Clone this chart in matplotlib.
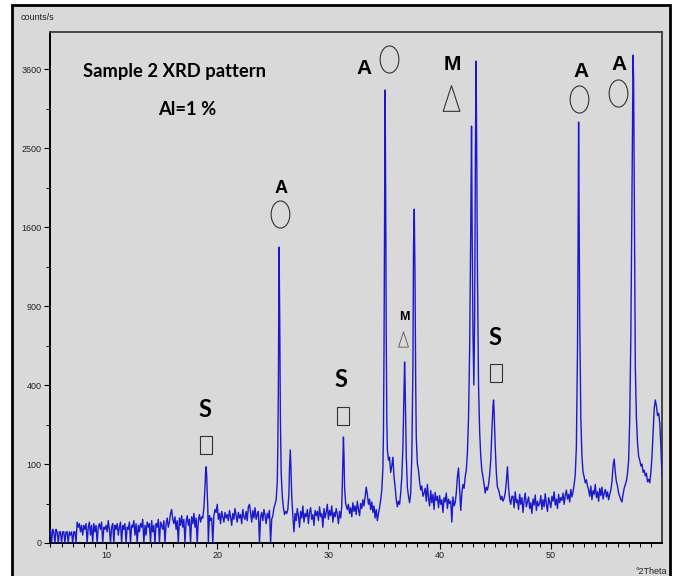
import numpy as np
import matplotlib
matplotlib.use('Agg')
import matplotlib.pyplot as plt

# ---------------- data ----------------
# baseline stretches: start angle (deg 2theta), step 0.1, counts/s
base1_start = 5.0
base1 = [3, 0, 3, 2, 0, 3, 2, 0, 2, 2,
         0, 2, 2, 0, 2, 2, 0, 2, 1, 2,
         0, 2, 2, 0, 7, 4, 6, 2, 5, 1,
         5, 3, 6, 0, 4, 7, 1, 5, 0, 6,
         2, 5, 0, 4, 6, 3, 7, 0, 4, 3,
         5, 2, 8, 3, 0, 4, 6, 0, 5, 3,
         6, 1, 4, 7, 0, 5, 3, 6, 0, 4,
         3, 7, 0, 5, 4, 8, 1, 6, 0, 5,
         2, 6, 4, 9, 0, 5, 1, 7, 4, 6,
         0, 8, 2, 5, 0, 6, 4, 9, 0, 7,
         5, 3, 8, 0, 6, 10, 4, 7, 14, 18,
         9, 6, 11, 3, 8, 0, 10, 5, 12, 4,
         9, 0, 7, 12, 5, 9, 0, 11, 6, 14,
         4, 10, 0, 8, 13, 7, 11]
peak1_theta = [18.7, 18.8, 18.9, 18.95, 19.0, 19.05, 19.1, 19.15, 19.2, 19.3, 19.4]
peak1_counts = [10, 20, 50, 80, 93, 75, 40, 20, 0, 12, 8]

base2_start = 19.5
base2 = [10, 0, 12, 18, 15,
         24, 9, 14, 6, 16, 11, 7, 15, 10, 13,
         8, 17, 11, 5, 14, 9, 19, 12, 7, 15,
         10, 13, 6, 18, 11, 9, 16, 8, 21, 24,
         14, 7, 17, 10, 20, 9, 13, 16, 0, 11,
         15, 8, 18, 12, 6, 14, 10, 17, 0, 9,
         12, 20]
peak2_theta = [25.2, 25.3, 25.4, 25.45, 25.5, 25.56, 25.62, 25.68, 25.75, 25.85, 25.95,
               26.05, 26.15, 26.25, 26.35, 26.45, 26.5, 26.57, 26.63, 26.7, 26.8, 26.9, 27.0]
peak2_counts = [24, 30, 60, 150, 400, 1404, 800, 250, 80, 35, 20,
                13, 16, 14, 18, 40, 90, 139, 90, 35, 12, 2, 14]

base3_start = 27.1
base3 = [8, 19, 12, 4, 16, 10, 22, 7, 14,
         11, 18, 6, 15, 20, 9, 13, 5, 17, 12,
         16, 8, 21, 11, 14, 4, 19, 10, 15, 24,
         9, 17, 12, 22, 7, 15, 11, 19, 13, 6,
         16, 10]
peak3_theta = [31.2, 31.25, 31.3, 31.35, 31.4, 31.45, 31.55, 31.7]
peak3_counts = [22, 60, 130, 180, 120, 50, 25, 18]

base4_start = 31.8
base4 = [24, 14,
         20, 11, 26, 16, 22, 13, 28, 18, 12, 25,
         19, 30, 22, 35, 50, 38, 24, 31, 18, 27,
         15, 22, 10, 18, 8, 14, 20]
peak4_theta = [34.7, 34.8, 34.9, 34.95, 35.0, 35.05, 35.1, 35.15, 35.2, 35.25, 35.3,
               35.4, 35.5, 35.6, 35.7, 35.8, 35.9, 36.0, 36.1, 36.2, 36.3, 36.4, 36.5,
               36.6, 36.7, 36.8, 36.85, 36.9, 37.0, 37.1, 37.2, 37.3, 37.4, 37.5, 37.6,
               37.65, 37.72, 37.78, 37.85, 37.9, 38.0, 38.1, 38.2, 38.3, 38.4, 38.5, 38.6]
peak4_counts = [30, 45, 90, 200, 600, 1800, 3290, 1900, 700, 250, 140,
                110, 118, 80, 95, 118, 70, 50, 30, 21, 28, 24, 40,
                70, 150, 380, 525, 400, 120, 50, 35, 26, 40, 120, 500,
                1400, 1787, 1200, 400, 180, 100, 85, 60, 45, 52, 35, 40]

base5_start = 38.7
base5 = [48, 28, 55,
         32, 22, 44, 26, 38, 18, 41, 29, 35, 20,
         36, 24, 30, 15, 33, 27, 40, 19, 31, 25,
         28, 7, 34, 22, 26]
peak5_theta = [41.5, 41.6, 41.7, 41.8, 41.9, 42.0, 42.1, 42.2, 42.3, 42.4, 42.5, 42.6,
               42.7, 42.8, 42.87, 42.93, 43.0, 43.08, 43.15, 43.22, 43.28, 43.33, 43.4,
               43.5, 43.6, 43.7, 43.8, 43.9, 44.0, 44.1, 44.2, 44.3, 44.4, 44.5, 44.6,
               44.7, 44.8, 44.85, 44.9, 45.0, 45.1, 45.2, 45.3, 45.4, 45.5, 45.6, 45.7,
               45.8, 45.9, 46.0, 46.1, 46.2, 46.3, 46.4, 46.5]
peak5_counts = [40, 70, 90, 45, 17, 40, 55, 48, 70, 85, 130, 250,
                600, 1600, 2786, 1500, 700, 400, 800, 2500, 3722, 2600, 1200,
                400, 200, 120, 85, 70, 55, 40, 50, 45, 55, 75, 110,
                200, 300, 328, 280, 150, 80, 50, 45, 38, 30, 35, 28,
                32, 40, 60, 93, 50, 30, 24, 35]

base6_start = 46.6
base6 = [35, 20, 42, 26,
         30, 18, 38, 24, 33, 15, 29, 40, 21, 27,
         34, 19, 26, 14, 31, 23, 37, 17, 28, 22,
         25, 36, 18, 30, 21, 39, 24, 16, 33, 27,
         20, 35, 28, 42, 23, 31, 19, 38, 26, 33,
         29, 40, 24, 36, 45, 31, 38, 27, 46, 34,
         42, 55]
peak6_theta = [52.2, 52.3, 52.4, 52.45, 52.5, 52.55, 52.6, 52.7, 52.8, 52.9, 53.0, 53.1, 53.2, 53.3]
peak6_counts = [75, 150, 600, 1400, 2840, 1600, 800, 250, 120, 80, 70, 58, 64, 52]

base7_start = 53.4
base7 = [45, 35, 52, 30, 44, 38,
         55, 33, 42, 28, 48, 36, 50, 31, 40, 46,
         34, 42, 30, 38, 45]
peak7_theta = [55.5, 55.6, 55.7, 55.8, 55.9, 56.0, 56.1, 56.2, 56.3, 56.4, 56.5, 56.6,
               56.7, 56.8, 56.9, 57.0, 57.1, 57.2, 57.3, 57.4, 57.45, 57.5, 57.55, 57.6,
               57.7, 57.8, 57.9, 58.0, 58.1, 58.2, 58.3, 58.4, 58.5, 58.6, 58.7, 58.8,
               58.9, 59.0, 59.1, 59.2, 59.3, 59.4, 59.5, 59.6, 59.7, 59.8, 59.9, 60.0]
peak7_counts = [60, 95, 113, 80, 60, 52, 40, 35, 30, 27, 38, 48,
                55, 62, 78, 110, 250, 700, 2000, 3817, 3400, 2200, 1200, 500,
                250, 160, 120, 110, 95, 100, 80, 85, 72, 78, 60, 65,
                58, 80, 120, 200, 290, 328, 300, 260, 270, 230, 150, 70]

# phase labels: (text, 2theta, counts)
phase_labels = [("S", 18.9, 254), ("A", 25.74, 1963), ("S", 31.1, 390),
                ("A", 33.23, 3525), ("M", 41.16, 3585), ("M", 36.83, 797),
                ("S", 44.95, 628), ("A", 52.7, 3484), ("A", 56.14, 3585)]
circle_marks = [(25.65, 1737), (35.47, 3757), (52.58, 3159), (56.07, 3252)]
square_marks = [(19.02, 155), (31.34, 260), (45.1, 461)]
triangle_marks = [(41.03, 3173)]
small_triangle_marks = [(36.7, 669)]

x_major = [10, 20, 30, 40, 50]
y_major = [0, 100, 400, 900, 1600, 2500, 3600]
y_minor = [25, 225, 625, 1225, 2025, 3025]


def seg(start, vals):
    return list(np.round(start + 0.1 * np.arange(len(vals)), 2)), list(vals)


parts = [seg(base1_start, base1), (peak1_theta, peak1_counts),
         seg(base2_start, base2), (peak2_theta, peak2_counts),
         seg(base3_start, base3), (peak3_theta, peak3_counts),
         seg(base4_start, base4), (peak4_theta, peak4_counts),
         seg(base5_start, base5), (peak5_theta, peak5_counts),
         seg(base6_start, base6), (peak6_theta, peak6_counts),
         seg(base7_start, base7), (peak7_theta, peak7_counts)]
two_theta = np.concatenate([np.asarray(p[0], float) for p in parts])
counts = np.concatenate([np.asarray(p[1], float) for p in parts])

# ---------------- figure ----------------
NARROW = ['Liberation Sans', 'DejaVu Sans']
CAL = ['Lato', 'Liberation Sans', 'DejaVu Sans']
BG = '#d9d9d9'

fig = plt.figure(figsize=(6.78, 5.76), dpi=100, facecolor='white')
# outer frame
frame = plt.Rectangle((12 / 678, -0.05), (670 - 12) / 678, 1.05 - 5 / 576,
                      transform=fig.transFigure, facecolor=BG, edgecolor='black',
                      linewidth=2.0, zorder=-5)
fig.patches.append(frame)

ax = fig.add_axes([50 / 678, 1 - 543 / 576, (662 - 50) / 678, (543 - 32) / 576])
ax.set_zorder(2)
ax.set_facecolor(BG)


def fwd(v):
    return np.sqrt(np.clip(v, 0, None))


def inv(v):
    return np.square(v)


ax.set_yscale('function', functions=(fwd, inv))
ax.plot(two_theta, counts, color='#1a1acc', linewidth=1.0, zorder=3)

ax.set_xlim(4.96, 60.0)
ax.set_ylim(0, 4186)
ax.set_xticks(x_major)
ax.set_xticks(np.arange(5, 60, 1), minor=True)
ax.set_yticks(y_major)
ax.set_yticks(y_minor, minor=True)
ax.set_yticklabels([str(v) for v in y_major])
ax.tick_params(axis='both', which='major', direction='out', length=4.5, width=0.8,
               labelsize=6.5, colors='black', labelcolor='#222222', pad=1.5)
ax.tick_params(axis='both', which='minor', direction='out', length=3, width=0.7,
               colors='black')
for lab in ax.get_xticklabels() + ax.get_yticklabels():
    lab.set_family(NARROW)

for side in ['left', 'bottom']:
    ax.spines[side].set_color('black')
    ax.spines[side].set_linewidth(1.4)
for side in ['top', 'right']:
    ax.spines[side].set_color('#444444')
    ax.spines[side].set_linewidth(1.4)

fig.text(21 / 678, 1 - 18 / 576, 'counts/s', fontsize=6.5, family=NARROW,
         color='#222222', ha='left', va='center')
fig.text(651 / 678, 1 - 572 / 576, '°2Theta', fontsize=6.5, family=NARROW,
         color='#222222', ha='center', va='center')

# title text
ax.text(16.2, 3480, 'Sample 2 XRD pattern', fontsize=13.2, fontweight='bold',
        family=CAL, ha='center', va='baseline')
ax.text(17.28, 2935, 'Al=1 %', fontsize=13.2, fontweight='bold', family=CAL,
        ha='center', va='baseline')

# phase labels
for txt, xt, yt in phase_labels:
    fam = CAL if txt == 'S' else NARROW
    if txt == 'M' and yt < 1000:
        fs = 9
    elif txt == 'A' and yt < 2500:
        fs = 13
    elif txt == 'S':
        fs = 17
    else:
        fs = 15
    ax.text(xt, yt, txt, fontsize=fs, fontweight='bold', family=fam,
            ha='center', va='baseline', clip_on=False)


def shape(verts):
    v = list(verts) + [verts[0]]
    return v


t = np.linspace(0, 2 * np.pi, 60)
ellipse_m = shape(list(zip(0.69 * np.cos(t), np.sin(t))))
square_m = shape([(-0.67, -1), (0.67, -1), (0.67, 1), (-0.67, 1)])
tri_m = shape([(-0.65, -1), (0.65, -1), (0, 1)])

for xm, ym in circle_marks:
    ax.plot([xm], [ym], marker=ellipse_m, markersize=19.5, mfc='none',
            mec='#333333', mew=0.8, clip_on=False)
for xm, ym in square_marks:
    ax.plot([xm], [ym], marker=square_m, markersize=13.5, mfc='none',
            mec='#333333', mew=0.8, clip_on=False)
for xm, ym in triangle_marks:
    ax.plot([xm], [ym], marker=tri_m, markersize=18.5, mfc='none',
            mec='#333333', mew=0.8, clip_on=False)
for xm, ym in small_triangle_marks:
    ax.plot([xm], [ym], marker=tri_m, markersize=11, mfc='none',
            mec='#555555', mew=0.6, linestyle='none', clip_on=False)

fig.savefig('out.png', dpi=100, facecolor='white')
